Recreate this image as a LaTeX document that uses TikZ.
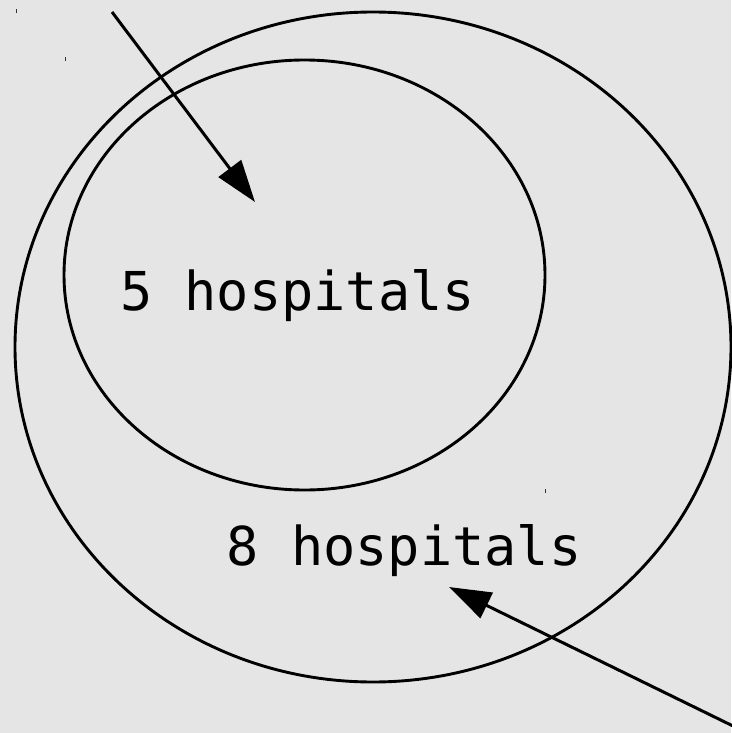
\documentclass[tikz,border=0pt]{standalone}
\usepackage{fontspec}
\setmonofont{DejaVu Sans Mono}
\definecolor{bggray}{HTML}{E5E5E5}
\usetikzlibrary{arrows.meta}

\begin{document}
\begin{tikzpicture}[
  x=0.02cm, y=-0.02cm,
  ring/.style={draw=black, line width=0.058cm},
  arrow/.style={-{Triangle[length=0.84cm, width=0.56cm]}, line width=0.06cm, black},
  lbl/.style={font=\ttfamily\fontsize{30.5}{36}\selectfont, inner sep=0pt},
  tick/.style={draw=black!80, line width=0.02cm}
]

% background
\fill[bggray] (0,0) rectangle (731,733);
\useasboundingbox (0,0) rectangle (731,733);

% sets
\draw[ring] (373,347) ellipse [x radius=358, y radius=335];
\draw[ring] (304.5,275) ellipse [x radius=240.5, y radius=215];

% labels
\node[lbl] (five)  at (297.5,296) {5 hospitals};
\node[lbl] (eight) at (404,551) {8 hospitals};

% arrow ends
\coordinate (tl-start) at (112,12);
\coordinate (tl-tip)   at (255,202);
\coordinate (br-start) at (733,726);
\coordinate (br-tip)   at (449,587);

\draw[arrow] (tl-start) -- (tl-tip);
\draw[arrow] (br-start) -- (br-tip);

% small marks
\draw[tick] (16,9) -- (16,13);
\draw[tick] (65,57) -- (65,61);
\draw[tick] (545,489) -- (545,493);

\end{tikzpicture}
\end{document}
